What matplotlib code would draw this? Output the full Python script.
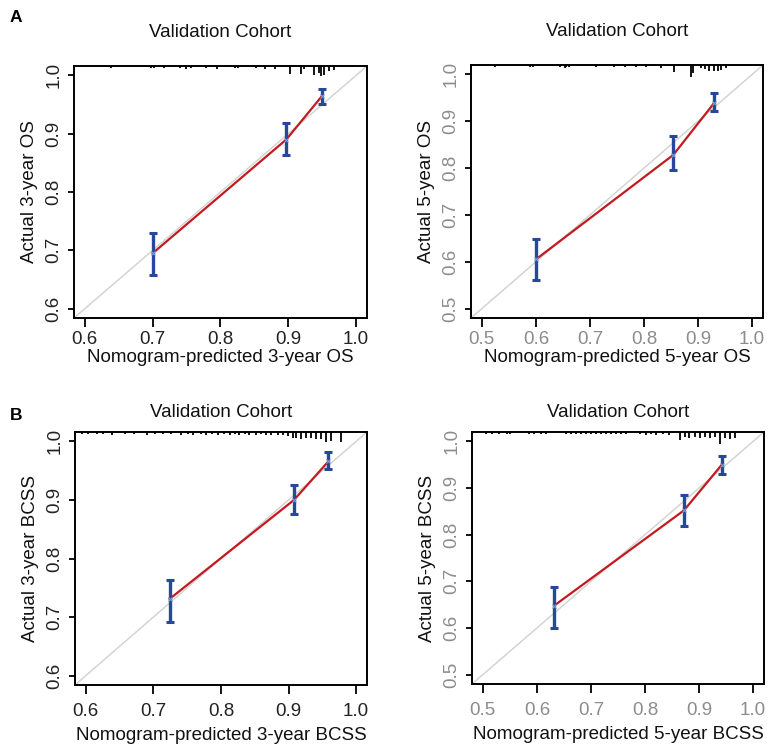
import matplotlib

matplotlib.use("Agg")
import matplotlib.pyplot as plt

plt.rcParams["font.family"] = ["Liberation Sans", "DejaVu Sans"]

# Panel A left: 3-year OS
os3_pred = [0.700, 0.897, 0.950]
os3_obs = [0.695, 0.890, 0.965]
os3_lo = [0.657, 0.864, 0.951]
os3_hi = [0.730, 0.918, 0.977]
os3_rug = [0.638, 0.698, 0.702, 0.716, 0.741, 0.749, 0.756, 0.778, 0.795, 0.821, 0.826, 0.852,
           0.865, 0.881, 0.903, 0.918, 0.923, 0.938, 0.945, 0.948, 0.953, 0.960, 0.968]
os3_rug_len = [2, 2, 2, 2, 2, 3, 2, 2, 3, 2, 2, 2, 3, 3, 8, 8, 3, 9, 7, 10, 9, 5, 4]

# Panel A right: 5-year OS
os5_pred = [0.601, 0.854, 0.929]
os5_obs = [0.606, 0.828, 0.938]
os5_lo = [0.561, 0.795, 0.921]
os5_hi = [0.649, 0.868, 0.960]
os5_rug = [0.524, 0.589, 0.595, 0.644, 0.653, 0.656, 0.662, 0.712, 0.745, 0.764, 0.785, 0.804,
           0.831, 0.856, 0.887, 0.890, 0.906, 0.912, 0.921, 0.930, 0.936, 0.943, 0.952]
os5_rug_len = [2, 2, 2, 2, 3, 2, 2, 2, 2, 2, 2, 2, 3, 7, 12, 8, 3, 4, 6, 6, 6, 5, 3]

# Panel B left: 3-year BCSS
bc3_pred = [0.724, 0.908, 0.959]
bc3_obs = [0.731, 0.900, 0.966]
bc3_lo = [0.691, 0.876, 0.953]
bc3_hi = [0.763, 0.925, 0.981]
bc3_rug = [0.594, 0.603, 0.616, 0.626, 0.638, 0.658, 0.672, 0.690, 0.702, 0.714, 0.726, 0.741,
           0.751, 0.758, 0.771, 0.778, 0.786, 0.795, 0.805, 0.813, 0.820, 0.827, 0.835, 0.842,
           0.852, 0.859, 0.867, 0.874, 0.884, 0.891, 0.899, 0.906, 0.911, 0.918, 0.926, 0.933,
           0.941, 0.948, 0.955, 0.963, 0.977]
bc3_rug_len = [2, 2, 2, 2, 3, 2, 2, 3, 2, 2, 2, 3, 2, 3, 2, 3, 2, 3, 2, 3, 2, 3, 2, 3,
               3, 2, 3, 3, 3, 3, 4, 6, 6, 7, 6, 6, 7, 7, 10, 9, 10]

# Panel B right: 5-year BCSS
bc5_pred = [0.632, 0.872, 0.942]
bc5_obs = [0.648, 0.852, 0.950]
bc5_lo = [0.600, 0.819, 0.931]
bc5_hi = [0.688, 0.885, 0.969]
bc5_rug = [0.505, 0.517, 0.530, 0.545, 0.551, 0.585, 0.595, 0.607, 0.616, 0.654, 0.663, 0.672,
           0.681, 0.691, 0.700, 0.709, 0.718, 0.728, 0.737, 0.746, 0.756, 0.765, 0.790, 0.802,
           0.811, 0.821, 0.833, 0.845, 0.864, 0.873, 0.882, 0.892, 0.901, 0.910, 0.920, 0.929,
           0.938, 0.947, 0.957, 0.966]
bc5_rug_len = [2, 2, 2, 2, 2, 2, 2, 2, 2, 2, 2, 2, 2, 2, 2, 2, 2, 2, 2, 2, 2, 2, 2, 3,
               2, 3, 2, 3, 8, 5, 6, 5, 6, 5, 6, 5, 12, 6, 7, 6]

ticks_a = [0.6, 0.7, 0.8, 0.9, 1.0]
ticks_b = [0.5, 0.6, 0.7, 0.8, 0.9, 1.0]

FIG_W, FIG_H = 769, 745


def draw_panel(fig, rect, pred, obs, lo, hi, rug, rug_len, ticks, xlabel, ylabel,
               tick_color, title_pad, xpad, xlabelpad):
    ax = fig.add_axes(rect)
    lo_lim = ticks[0] - 0.04 * (ticks[-1] - ticks[0])
    hi_lim = ticks[-1] + 0.04 * (ticks[-1] - ticks[0])
    ax.set_xlim(lo_lim, hi_lim)
    ax.set_ylim(lo_lim, hi_lim)

    # ideal line
    ax.plot([lo_lim, hi_lim], [lo_lim, hi_lim], color="#d4d4d4", linewidth=1.1, zorder=1)
    # calibration curve
    ax.plot(pred, obs, color="#c41a1f", linewidth=1.6, zorder=2)
    yerr = [[o - l for o, l in zip(obs, lo)], [h - o for o, h in zip(obs, hi)]]
    ax.errorbar(pred, obs, yerr=yerr, fmt="none", ecolor="#27479a", elinewidth=2.4,
                capsize=2.6, capthick=2.2, zorder=3)
    ax.plot(pred, obs, linestyle="none", marker="x", markersize=3, color="#7f9ad6",
            markeredgewidth=0.8, zorder=4)

    # rug of predicted values hanging from the top edge
    ax_h = rect[3] * FIG_H
    ymins = [1 - n / ax_h for n in rug_len]
    ax.vlines(rug, ymins, 1, transform=ax.get_xaxis_transform(), color="black",
              linewidth=1.3, zorder=5)

    ax.set_xticks(ticks)
    ax.set_yticks(ticks)
    ax.set_xticklabels([f"{t:.1f}" for t in ticks])
    ax.set_yticklabels([f"{t:.1f}" for t in ticks], rotation=90, va="center")
    ax.tick_params(axis="x", length=6.5, width=1.3, pad=xpad, labelsize=13.5,
                   labelcolor=tick_color)
    ax.tick_params(axis="y", length=4.5, width=1.3, pad=4, labelsize=13.5,
                   labelcolor=tick_color)
    for sp in ax.spines.values():
        sp.set_linewidth(1.4)
    ax.set_xlabel(xlabel, fontsize=13.5, labelpad=xlabelpad, color="#111111")
    ax.set_ylabel(ylabel, fontsize=13.5, labelpad=5.5, color="#111111")
    ax.set_title("Validation Cohort", fontsize=13.5, pad=title_pad, color="#111111")
    return ax


def main():
    fig = plt.figure(figsize=(FIG_W / 100, FIG_H / 100), dpi=100)

    draw_panel(fig, [74 / FIG_W, 1 - 318 / FIG_H, 293 / FIG_W, 252 / FIG_H],
               os3_pred, os3_obs, os3_lo, os3_hi, os3_rug, os3_rug_len, ticks_a,
               "Nomogram-predicted 3-year OS", "Actual 3-year OS", "#222222", 21, 2.5, 1)
    draw_panel(fig, [471 / FIG_W, 1 - 318 / FIG_H, 292 / FIG_W, 253 / FIG_H],
               os5_pred, os5_obs, os5_lo, os5_hi, os5_rug, os5_rug_len, ticks_b,
               "Nomogram-predicted 5-year OS", "Actual 5-year OS", "#8c8c8c", 21, 2.5, 1)
    draw_panel(fig, [75 / FIG_W, 1 - 685 / FIG_H, 292 / FIG_W, 253 / FIG_H],
               bc3_pred, bc3_obs, bc3_lo, bc3_hi, bc3_rug, bc3_rug_len, ticks_a,
               "Nomogram-predicted 3-year BCSS", "Actual 3-year BCSS", "#222222", 11, 6.5, 5)
    draw_panel(fig, [472 / FIG_W, 1 - 684 / FIG_H, 292 / FIG_W, 252 / FIG_H],
               bc5_pred, bc5_obs, bc5_lo, bc5_hi, bc5_rug, bc5_rug_len, ticks_b,
               "Nomogram-predicted 5-year BCSS", "Actual 5-year BCSS", "#8c8c8c", 11, 6.5, 5)

    fig.text(10 / FIG_W, 1 - 18 / FIG_H, "A", fontsize=12.5, fontweight="bold", va="center")
    fig.text(10 / FIG_W, 1 - 415 / FIG_H, "B", fontsize=12.5, fontweight="bold", va="center")

    fig.savefig("out.png", dpi=100)
    plt.close(fig)


if __name__ == "__main__":
    main()
